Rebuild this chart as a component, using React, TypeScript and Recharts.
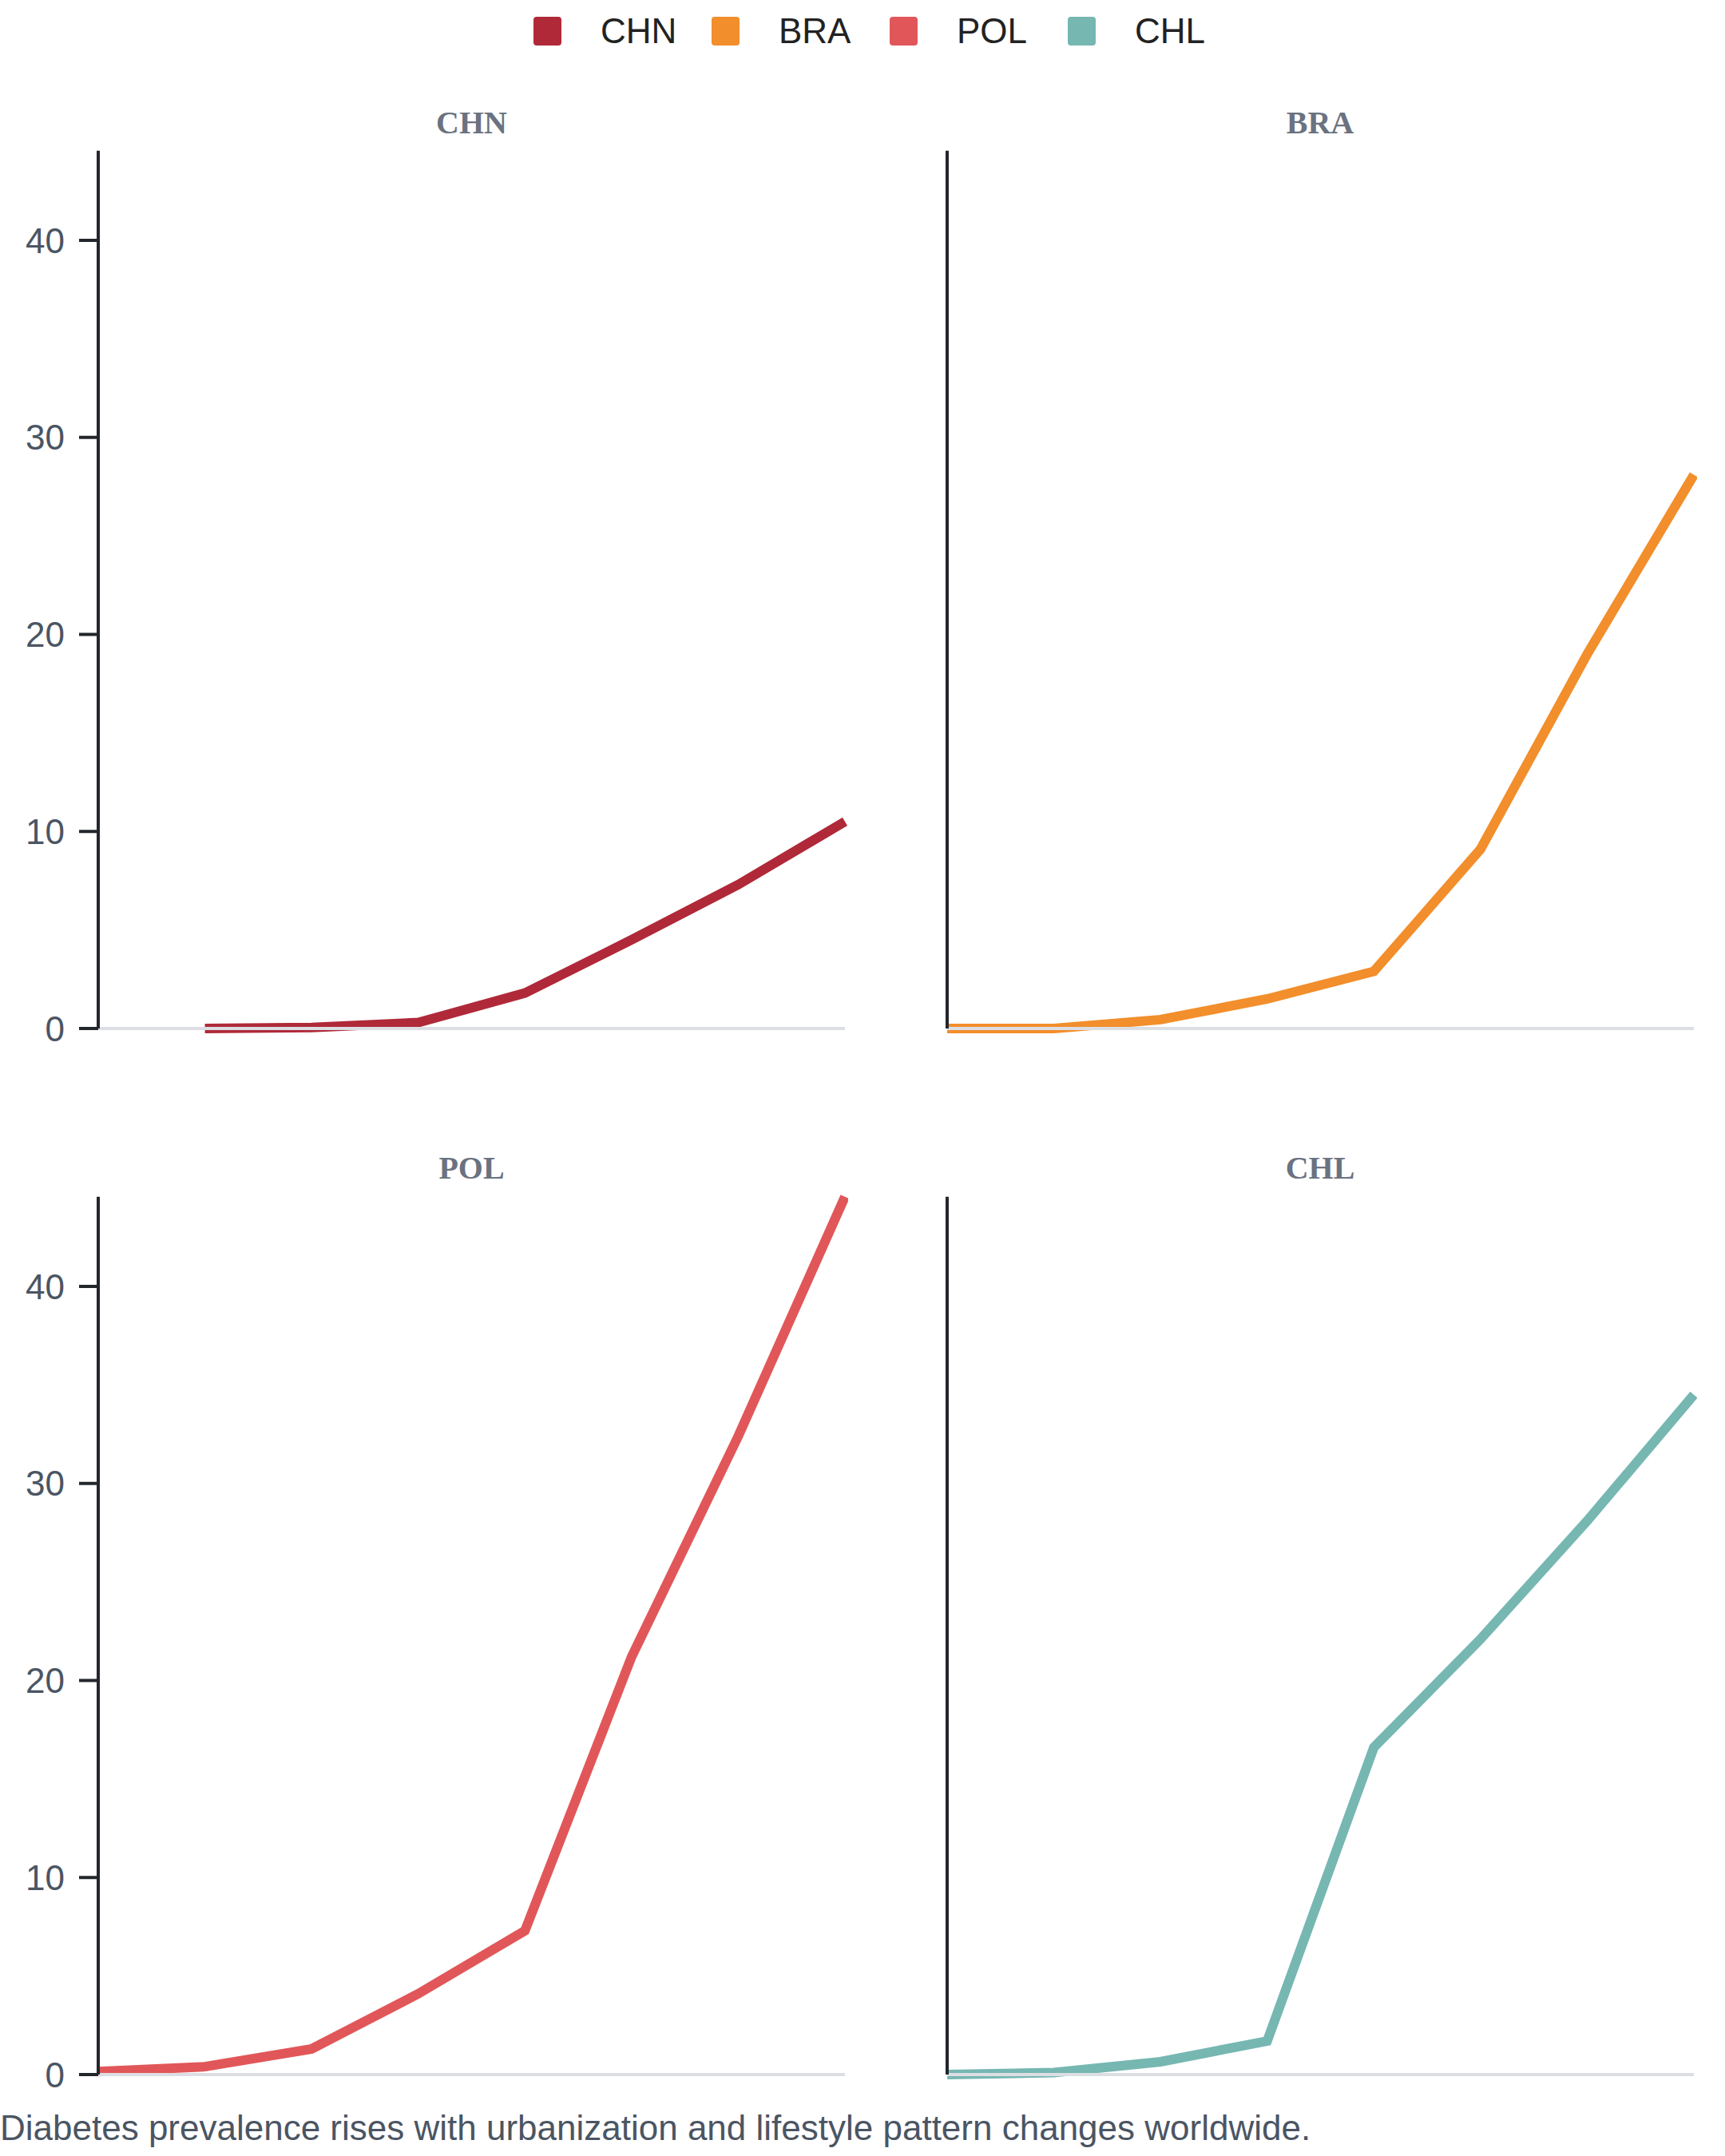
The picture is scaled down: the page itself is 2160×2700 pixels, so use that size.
import React from 'react';
import { LineChart, Line, XAxis, YAxis } from 'recharts';

// ---- data ----
const years = ['1990', '1995', '2000', '2005', '2010', '2015', '2020', '2025'];
const chnValues = [null, 0, 0.05, 0.3, 1.8, 4.5, 7.3, 10.5];
const braValues = [0, 0, 0.45, 1.5, 2.9, 9.1, 19.0, 28.1];
const polValues = [0.15, 0.4, 1.3, 4.1, 7.3, 21.2, 32.4, 44.55];
const chlValues = [0, 0.1, 0.65, 1.7, 16.6, 22.1, 28.1, 34.5];
const countries = ['CHN', 'BRA', 'POL', 'CHL'];
const seriesColors = ['#B02938', '#F28E2B', '#E15759', '#76B7B2'];
const yTicks = [0, 10, 20, 30, 40];
const captionText = 'Diabetes prevalence rises with urbanization and lifestyle pattern changes worldwide.';

const allSeries = [chnValues, braValues, polValues, chlValues];
const tableData = years.map((year, i) => ({
  year,
  CHN: chnValues[i],
  BRA: braValues[i],
  POL: polValues[i],
  CHL: chlValues[i],
}));
const yMax = Math.max(...(allSeries.flat().filter((v) => v != null) as number[]));

const SANS = '"Liberation Sans", Arial, Helvetica, sans-serif';
const SERIF = '"Liberation Serif", "Times New Roman", serif';

const CHART_W = 1062;
const CHART_H = 1190;
const AXIS_W = 123;

type PanelProps = { idx: number; left: number; top: number; showTicks: boolean };

function Panel({ idx, left, top, showTicks }: PanelProps) {
  const key = countries[idx];
  const color = seriesColors[idx];
  const plotLeft = left + AXIS_W;
  const plotRight = left + CHART_W - 4;
  return (
    <>
      <div
        style={{
          position: 'absolute',
          left: plotLeft,
          width: plotRight - plotLeft,
          top: top - 6.5,
          textAlign: 'center',
          fontFamily: SERIF,
          fontWeight: 700,
          fontSize: 40,
          lineHeight: '40px',
          color: '#6b7280',
        }}
      >
        {key}
      </div>
      <div style={{ position: 'absolute', left, top }}>
        <LineChart
          width={CHART_W}
          height={CHART_H}
          data={tableData}
          margin={{ top: 48.7, right: 4, left: 0, bottom: 40 }}
        >
          <Line
            type="linear"
            dataKey={key}
            stroke={color}
            strokeWidth={12}
            dot={false}
            activeDot={false}
            isAnimationActive={false}
          />
          <XAxis
            dataKey="year"
            type="category"
            padding={{ left: 0, right: 0 }}
            tick={false}
            tickLine={false}
            height={2}
            axisLine={{ stroke: '#dcdee3', strokeWidth: 4 }}
          />
          <YAxis
            type="number"
            domain={[0, yMax]}
            ticks={yTicks}
            interval={0}
            width={AXIS_W}
            tickSize={24}
            tickMargin={18}
            tick={showTicks ? { fontSize: 44, fill: '#4b5563', fontFamily: SANS } : false}
            tickLine={showTicks ? { stroke: '#23262b', strokeWidth: 4 } : false}
            axisLine={{ stroke: '#23262b', strokeWidth: 4 }}
          />
        </LineChart>
      </div>
    </>
  );
}

function LegendBar() {
  return (
    <div
      style={{
        position: 'absolute',
        left: 668,
        top: 21,
        height: 36,
        display: 'flex',
        alignItems: 'center',
      }}
    >
      {countries.map((c, i) => (
        <div key={c} style={{ width: 223, display: 'flex', alignItems: 'center' }}>
          <div
            style={{
              width: 35,
              height: 36,
              borderRadius: 4,
              background: seriesColors[i],
              flex: 'none',
            }}
          />
          <div
            style={{
              marginLeft: 49,
              fontFamily: SANS,
              fontSize: 44,
              lineHeight: '44px',
              color: '#222222',
              whiteSpace: 'nowrap',
            }}
          >
            {c}
          </div>
        </div>
      ))}
    </div>
  );
}

export default function App() {
  return (
    <div
      style={{
        position: 'absolute',
        left: 0,
        top: 0,
        width: 2160,
        height: 2700,
        background: '#ffffff',
        overflow: 'hidden',
      }}
    >
      <LegendBar />
      <Panel idx={0} left={0} top={140} showTicks={true} />
      <Panel idx={1} left={1062.5} top={140} showTicks={false} />
      <Panel idx={2} left={0} top={1449.5} showTicks={true} />
      <Panel idx={3} left={1062.5} top={1449.5} showTicks={false} />
      <div
        style={{
          position: 'absolute',
          left: 0,
          top: 2643,
          fontFamily: SANS,
          fontSize: 44,
          lineHeight: '44px',
          color: '#4b5563',
          whiteSpace: 'nowrap',
        }}
      >
        {captionText}
      </div>
    </div>
  );
}
